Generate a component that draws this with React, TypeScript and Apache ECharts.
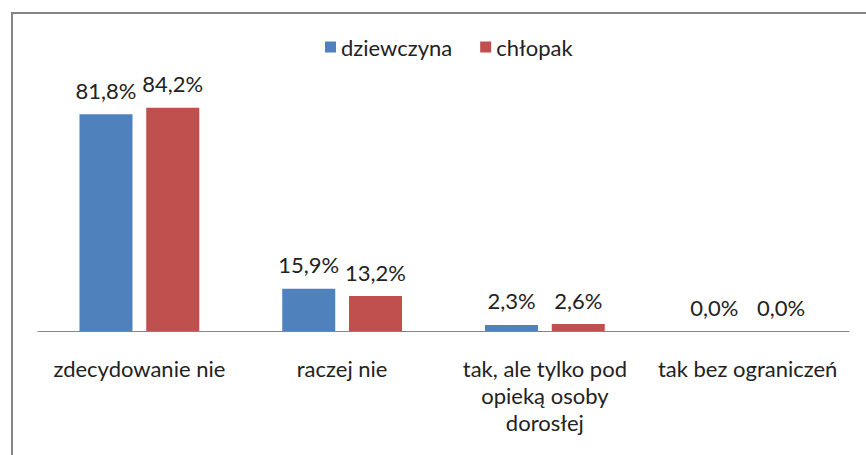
import React, { useEffect, useRef } from "react";
import * as echarts from "echarts";

const categories = [
  "zdecydowanie nie",
  "raczej nie",
  "tak, ale tylko pod\nopieką osoby\ndorosłej",
  "tak bez ograniczeń",
];
const dziewczyna = [81.8, 15.9, 2.3, 0.0];
const chlopak = [84.2, 13.2, 2.6, 0.0];
const seriesNames = ["dziewczyna", "chłopak"];

const FONT = "Lato, 'Open Sans', sans-serif";
const TEXT = "#222";

export default function App() {
  const ref = useRef<HTMLDivElement>(null);
  useEffect(() => {
    document.body.style.margin = "0";
    const chart = echarts.init(ref.current!, null, { renderer: "svg" });
    const fmt = (p: any) => p.value.toFixed(1).replace(".", ",") + "%";
    const label = {
      show: true,
      position: "top",
      distance: 13,
      formatter: fmt,
      fontFamily: FONT,
      fontSize: 22,
      color: TEXT,
    };
    chart.setOption({
      animation: false,
      backgroundColor: "#fff",
      textStyle: { fontFamily: FONT },
      graphic: [
        {
          type: "rect",
          shape: { x: 12, y: 13, width: 900, height: 500 },
          style: { fill: "none", stroke: "#858585", lineWidth: 2 },
          z: 100,
        },
      ],
      legend: {
        top: 31,
        left: 320,
        itemWidth: 11,
        itemHeight: 11,
        itemGap: 28,
        icon: "rect",
        textStyle: { fontFamily: FONT, fontSize: 22, color: TEXT },
        data: seriesNames,
      },
      grid: { left: 38, right: 17, top: 66, bottom: 124, containLabel: false },
      xAxis: {
        type: "category",
        data: categories,
        axisLine: { lineStyle: { color: "#868686", width: 1 } },
        axisTick: { show: false },
        axisLabel: {
          fontFamily: FONT,
          fontSize: 22,
          color: TEXT,
          margin: 24,
          lineHeight: 27,
          interval: 0,
        },
      },
      yAxis: {
        type: "value",
        min: 0,
        max: 100,
        show: false,
        splitLine: { show: false },
      },
      series: [
        {
          name: seriesNames[0],
          type: "bar",
          data: dziewczyna,
          barWidth: 53,
          barGap: "26%",
          itemStyle: { color: "#4F81BD" },
          label,
        },
        {
          name: seriesNames[1],
          type: "bar",
          data: chlopak,
          barWidth: 53,
          barGap: "26%",
          itemStyle: { color: "#C0504D" },
          label,
        },
      ],
    });
    return () => chart.dispose();
  }, []);
  return <div ref={ref} style={{ width: 866, height: 455 }} />;
}
